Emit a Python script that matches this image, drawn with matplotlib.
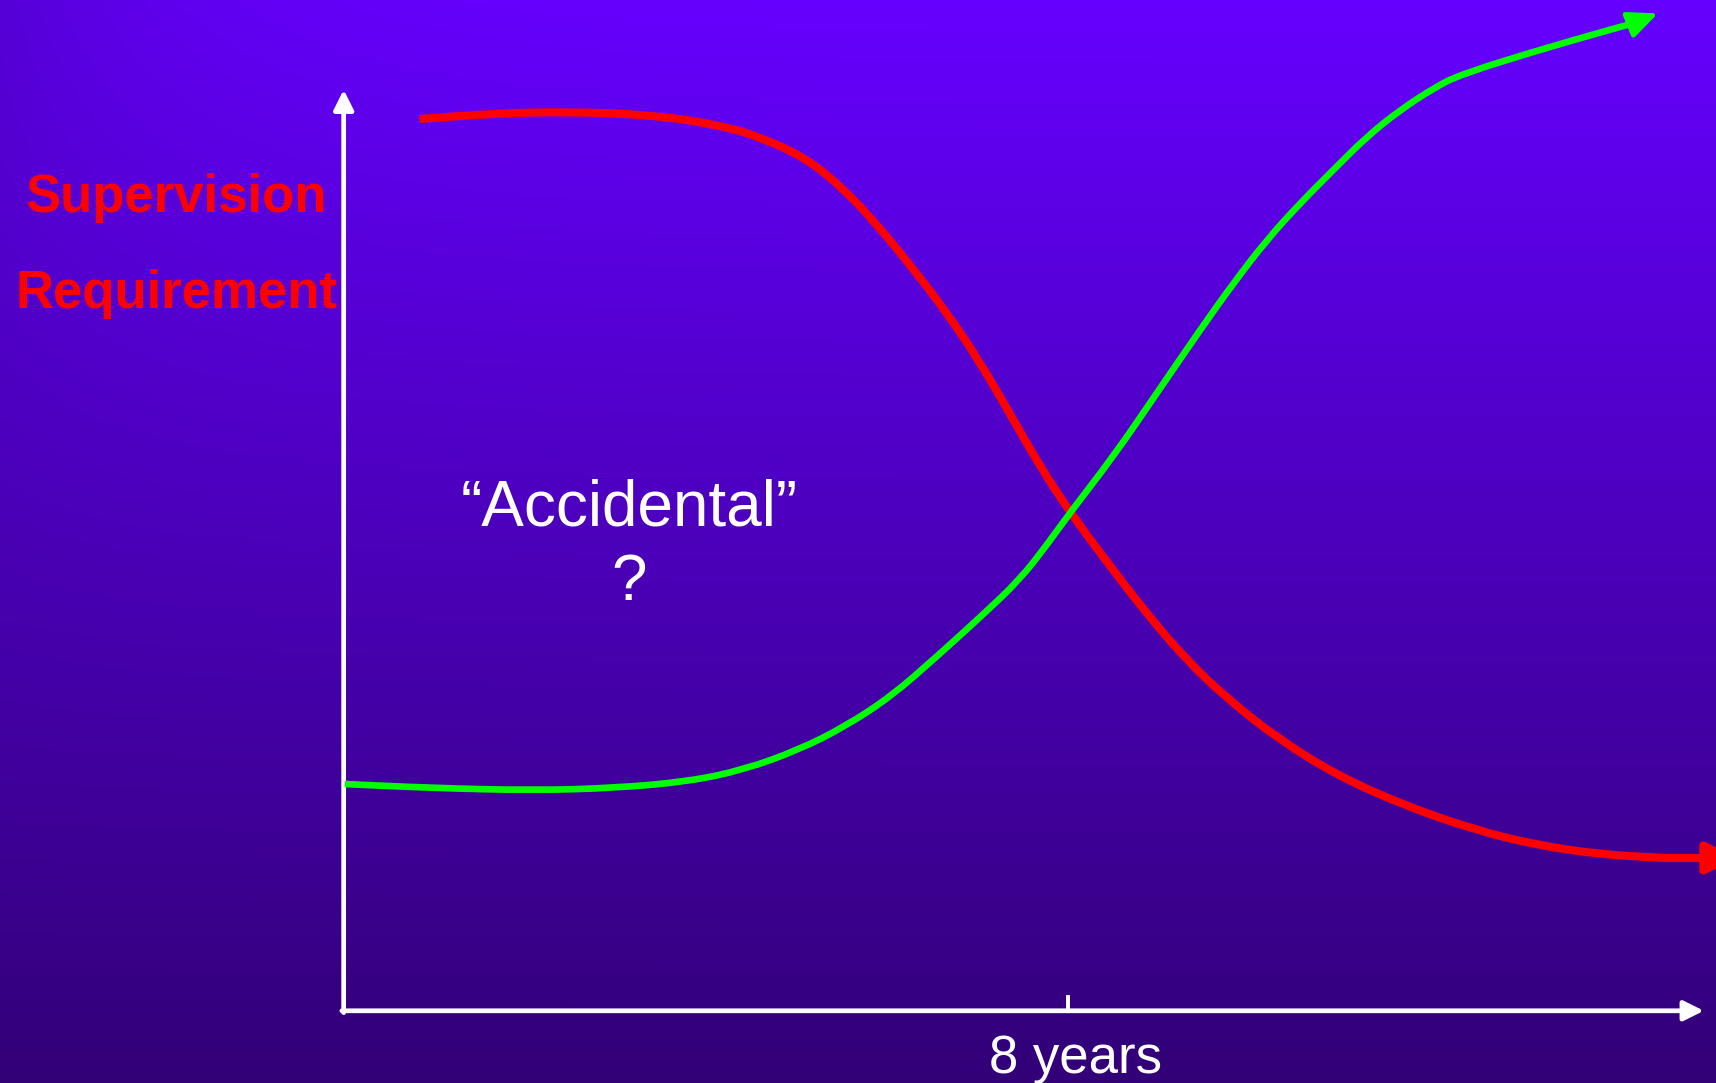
import numpy as np
import matplotlib.pyplot as plt
from matplotlib.path import Path
from matplotlib.patches import PathPatch

# x in years, y in "level" units (top of the vertical axis = 10)
red_x = [0.838, 1.686, 2.523, 3.411, 4.151, 4.643, 5.137, 5.531, 5.876, 6.270,
         6.664, 7.010, 7.354, 7.690, 8.030, 8.410, 8.833, 9.302, 9.770, 10.333,
         10.991, 11.740, 12.491, 13.148, 13.898, 14.602, 15.39]
red_y = [9.682, 9.744, 9.761, 9.725, 9.617, 9.472, 9.237, 8.911, 8.550, 8.079,
         7.573, 7.067, 6.488, 5.909, 5.400, 4.897, 4.354, 3.812, 3.378, 2.943,
         2.545, 2.219, 1.966, 1.803, 1.695, 1.659, 1.659]

green_x = [0.011, 0.974, 2.089, 3.002, 3.814, 4.421, 5.030, 5.537, 6.045, 6.551,
           7.058, 7.464, 7.767, 8.030, 8.499, 8.979, 9.457, 9.825, 10.193, 10.561,
           10.929, 11.297, 11.665, 12.033, 12.327, 13.321, 14.238, 14.514]
green_y = [2.462, 2.419, 2.393, 2.419, 2.491, 2.618, 2.835, 3.087, 3.413, 3.847,
           4.300, 4.679, 5.060, 5.420, 6.017, 6.705, 7.392, 7.899, 8.369, 8.767,
           9.129, 9.490, 9.779, 10.015, 10.165, 10.467, 10.721, 10.829]

tick_year = 8
x_end = 15.02
y_end = 10.0

XLIM = (-3.795, 15.154)
YLIM = (-0.784, 10.974)


def smooth_path(xs, ys):
    # quadratic bezier through midpoints, read points act as control points
    pts = list(zip(xs, ys))
    mid = lambda a, b: ((a[0] + b[0]) / 2, (a[1] + b[1]) / 2)
    verts = [pts[0], mid(pts[0], pts[1])]
    codes = [Path.MOVETO, Path.LINETO]
    for i in range(1, len(pts) - 1):
        verts += [pts[i], mid(pts[i], pts[i + 1])]
        codes += [Path.CURVE3, Path.CURVE3]
    verts.append(pts[-1])
    codes.append(Path.LINETO)
    return Path(verts, codes)


fig = plt.figure(figsize=(17.16, 10.83), dpi=100)
ax = fig.add_axes([0, 0, 1, 1])
ax.set_xlim(XLIM)
ax.set_ylim(YLIM)
ax.axis("off")

# background gradient: bright violet top, dark purple bottom, a bit darker top-left
h, w = 300, 400
t = np.linspace(0, 1, h)[:, None]
top = np.array([0x66, 0x00, 0xFF]) / 255
bot = np.array([0x32, 0x00, 0x77]) / 255
bg = top[None, None, :] * (1 - t[..., None]) + bot[None, None, :] * t[..., None]
bg = np.broadcast_to(bg, (h, w, 3)).copy()
xs = np.linspace(0, 1716, w)[None, :]
dark = 0.16 * np.exp(-xs / 200) * (1 - t) ** 2
bg *= (1 - dark[..., None])
ax.imshow(bg, extent=(*XLIM, *YLIM), origin="upper", aspect="auto", zorder=0)

# axes arrows
axis_arrow = dict(arrowstyle="-|>,head_length=0.6,head_width=0.3",
                  color="white", lw=3.4, shrinkA=0, shrinkB=0, mutation_scale=20)
ax.annotate("", xy=(0, y_end), xytext=(0, -0.02), arrowprops=axis_arrow, zorder=3)
ax.annotate("", xy=(x_end, 0), xytext=(-0.02, 0), arrowprops=axis_arrow, zorder=3)
ax.plot([tick_year, tick_year], [0, 0.15], color="white", lw=2.8, zorder=3)

# curves
ax.add_patch(PathPatch(smooth_path(red_x[:-1], red_y[:-1]), fill=False,
                       edgecolor="#FF0000", lw=5.8, capstyle="butt",
                       joinstyle="round", zorder=4))
ax.annotate("", xy=(red_x[-1], red_y[-1]), xytext=(red_x[-2], red_y[-2]),
            arrowprops=dict(arrowstyle="-|>,head_length=0.9,head_width=0.45",
                            color="#FF0000", lw=5.8, shrinkA=0, shrinkB=0,
                            mutation_scale=20),
            annotation_clip=False, zorder=4)
ax.add_patch(PathPatch(smooth_path(green_x[:-1], green_y[:-1]), fill=False,
                       edgecolor="#00FF00", lw=4.8, capstyle="butt",
                       joinstyle="round", zorder=5))
ax.annotate("", xy=(green_x[-1], green_y[-1]), xytext=(green_x[-2], green_y[-2]),
            arrowprops=dict(arrowstyle="-|>,head_length=0.9,head_width=0.4",
                            color="#00FF00", lw=3.5, shrinkA=0, shrinkB=0,
                            mutation_scale=20),
            annotation_clip=False, zorder=5)

# labels
font = "Liberation Sans"
ax.text(-1.85, 8.82, "Supervision", color="#FF0000", fontsize=38, weight="bold",
        family=font, ha="center", va="center")
ax.text(-1.85, 7.78, "Requirement", color="#FF0000", fontsize=38, weight="bold",
        family=font, ha="center", va="center")
ax.text(3.15, 5.45, "\u201cAccidental\u201d", color="white", fontsize=46,
        family=font, ha="center", va="center")
ax.text(3.15, 4.64, "?", color="white", fontsize=46,
        family=font, ha="center", va="center")
ax.text(8.08, -0.52, "8 years", color="white", fontsize=38,
        family=font, ha="center", va="center")

fig.savefig("out.png", dpi=100)
